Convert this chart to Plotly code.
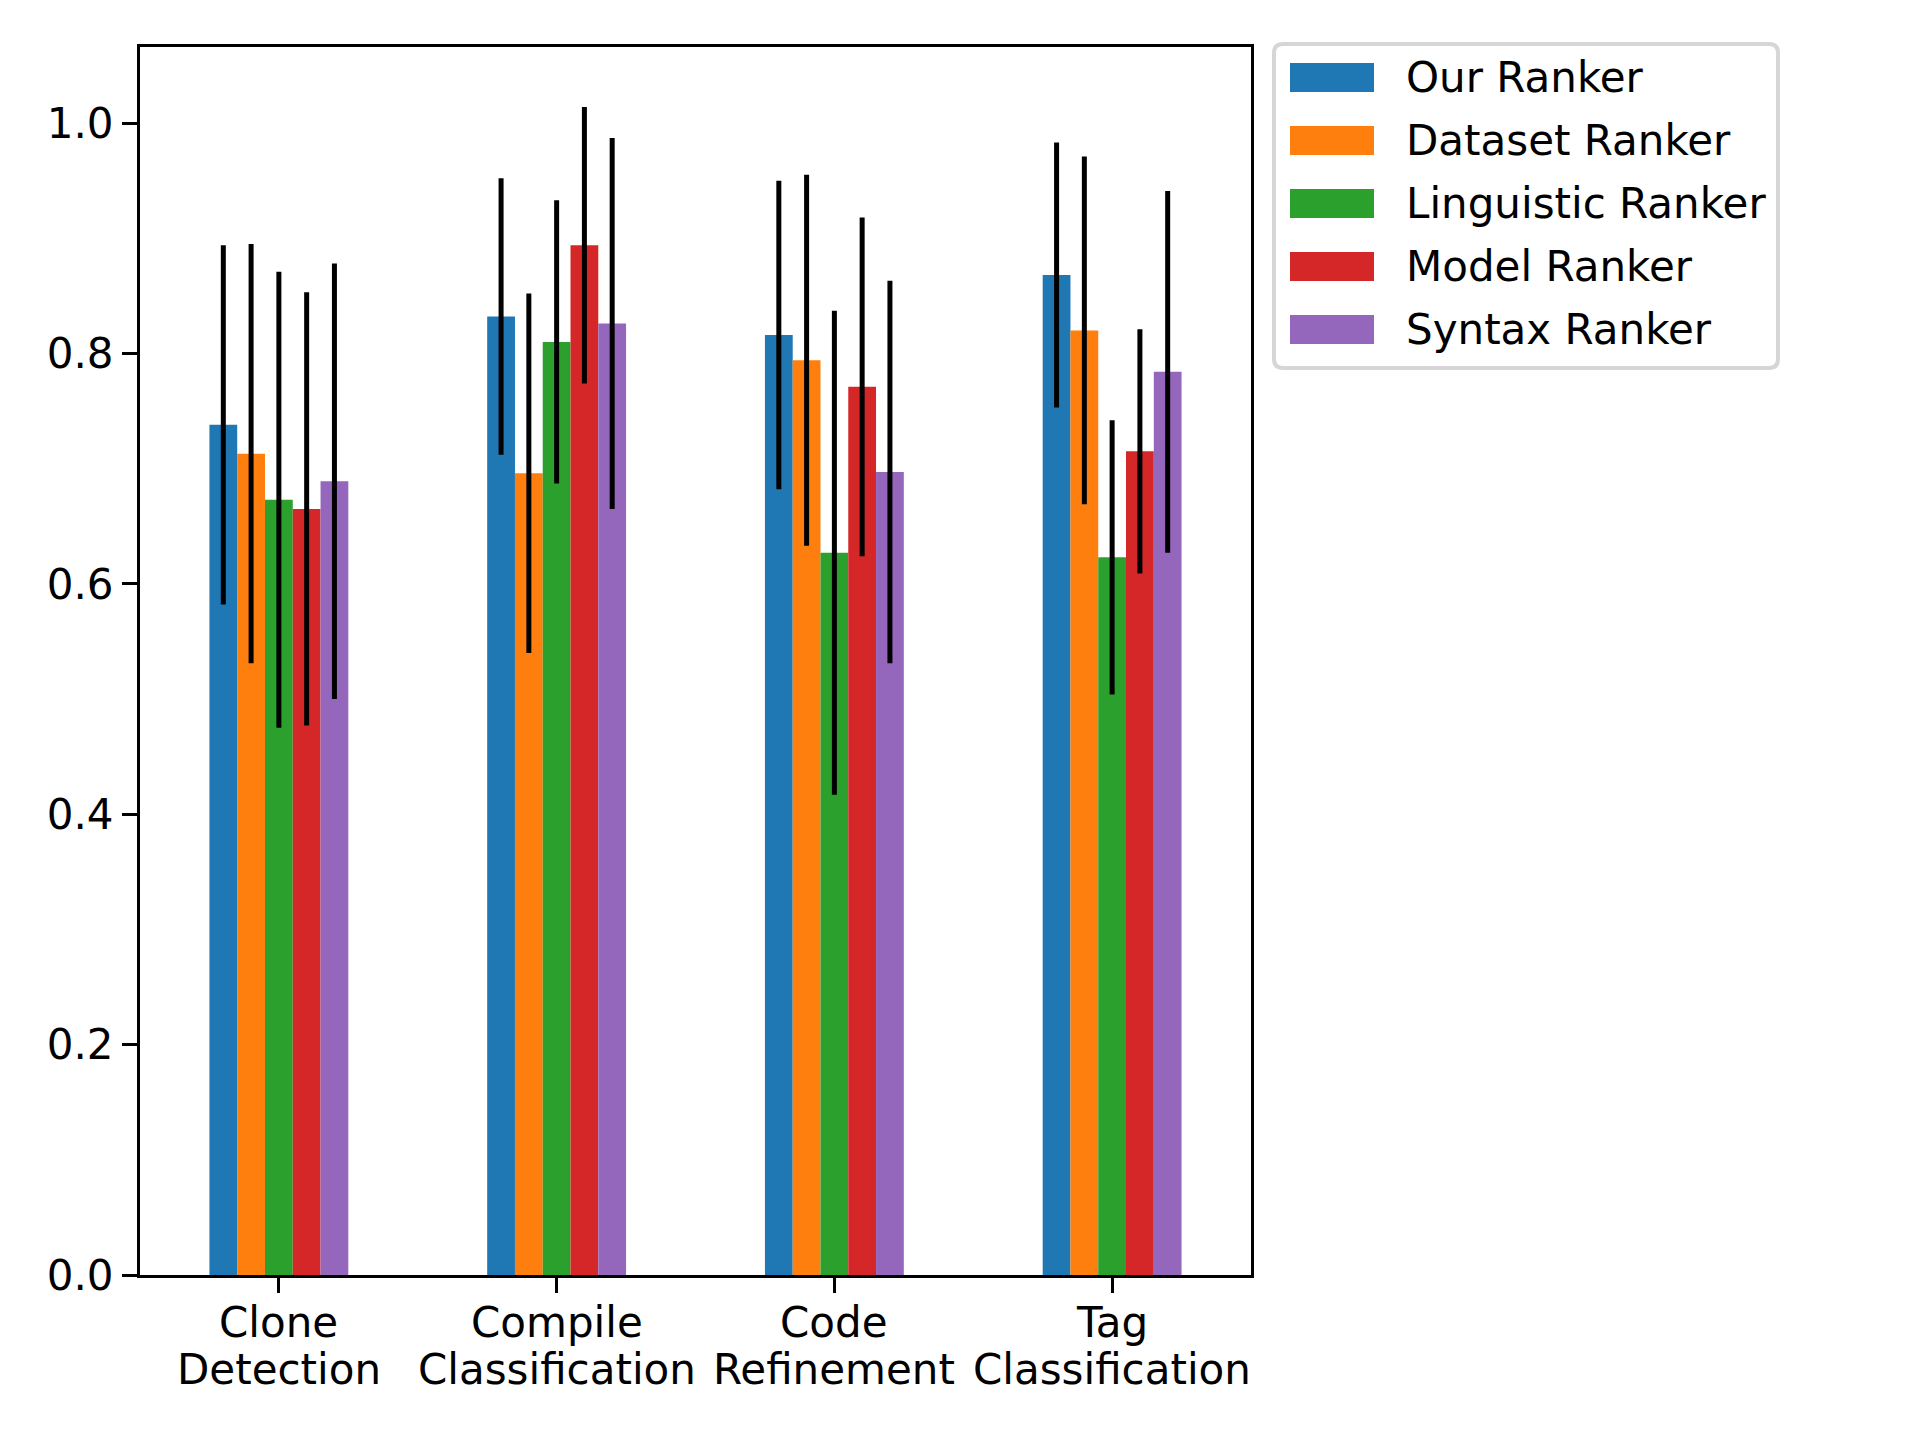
import plotly.graph_objects as go

categories = ["Clone<br>Detection", "Compile<br>Classification", "Code<br>Refinement", "Tag<br>Classification"]
rankers = ["Our Ranker", "Dataset Ranker", "Linguistic Ranker", "Model Ranker", "Syntax Ranker"]
colors = ["#1f77b4", "#ff7f0e", "#2ca02c", "#d62728", "#9467bd"]

our_ranker = [0.738, 0.832, 0.816, 0.868]
dataset_ranker = [0.713, 0.696, 0.794, 0.820]
linguistic_ranker = [0.673, 0.810, 0.627, 0.623]
model_ranker = [0.665, 0.894, 0.771, 0.715]
syntax_ranker = [0.689, 0.826, 0.697, 0.784]

our_err = [0.156, 0.120, 0.134, 0.115]
dataset_err = [0.182, 0.156, 0.161, 0.151]
linguistic_err = [0.198, 0.123, 0.210, 0.119]
model_err = [0.188, 0.120, 0.147, 0.106]
syntax_err = [0.189, 0.161, 0.166, 0.157]

values = [our_ranker, dataset_ranker, linguistic_ranker, model_ranker, syntax_ranker]
errors = [our_err, dataset_err, linguistic_err, model_err, syntax_err]

# the page body has an 8px margin, so everything is placed 8px up/left
OFF = 8
W, H = 1920 - 2 * OFF, 1440 - 2 * OFF
L, R, T, B = 140 - OFF, 1251 - OFF, 47 - OFF, 1275 - OFF   # axes box in pixels
font = "DejaVu Sans"

fig = go.Figure()

for name, col, vals, errs in zip(rankers, colors, values, errors):
    fig.add_trace(go.Bar(
        x=categories, y=vals, name=name,
        marker=dict(color=col, line=dict(width=0)),
        error_y=dict(type="data", array=errs, color="black", thickness=5, width=0),
        showlegend=False,
    ))


# legend drawn by hand so the patches match the reference size
def px_x(p):
    return (p - OFF - L) / (R - L)


def px_y(p):
    return (B - (p - OFF)) / (B - T)


def rounded_box(x0, y0, x1, y1, r):
    # rounded rectangle path in paper coords, pixel inputs
    pts = [
        f"M{px_x(x0 + r)},{px_y(y0)}", f"L{px_x(x1 - r)},{px_y(y0)}",
        f"Q{px_x(x1)},{px_y(y0)} {px_x(x1)},{px_y(y0 + r)}", f"L{px_x(x1)},{px_y(y1 - r)}",
        f"Q{px_x(x1)},{px_y(y1)} {px_x(x1 - r)},{px_y(y1)}", f"L{px_x(x0 + r)},{px_y(y1)}",
        f"Q{px_x(x0)},{px_y(y1)} {px_x(x0)},{px_y(y1 - r)}", f"L{px_x(x0)},{px_y(y0 + r)}",
        f"Q{px_x(x0)},{px_y(y0)} {px_x(x0 + r)},{px_y(y0)}", "Z",
    ]
    return " ".join(pts)


shapes = [dict(type="path", xref="paper", yref="paper",
               path=rounded_box(1274, 44, 1778, 368, 9),
               line=dict(color="#d6d6d6", width=4), fillcolor="white", layer="above")]
annotations = []
for i, (name, col) in enumerate(zip(rankers, colors)):
    cy = 77.5 + i * 63
    shapes.append(dict(type="rect", xref="paper", yref="paper",
                       x0=px_x(1290), x1=px_x(1374), y0=px_y(cy + 14.5), y1=px_y(cy - 14.5),
                       line=dict(width=0), fillcolor=col, layer="above"))
    annotations.append(dict(xref="paper", yref="paper", x=px_x(1404), y=px_y(cy),
                            xanchor="left", yanchor="middle", text=name, showarrow=False,
                            font=dict(family=font, size=42, color="black")))

# two-line category labels, one annotation per line for tighter line spacing
for cat in categories:
    for j, line in enumerate(cat.split("<br>")):
        annotations.append(dict(xref="x", yref="paper", x=cat, y=0, yshift=-(47 + 47 * j),
                                xanchor="center", yanchor="middle", text=line, showarrow=False,
                                font=dict(family=font, size=42, color="black")))

fig.update_layout(
    width=W, height=H,
    margin=dict(l=L, r=W - R, t=T, b=H - B),
    plot_bgcolor="white", paper_bgcolor="white",
    barmode="group", bargap=0.5, bargroupgap=0,
    font=dict(family=font, size=42, color="black"),
    shapes=shapes, annotations=annotations,
    showlegend=False,
)

fig.update_xaxes(
    range=[-0.5, 3.5], showline=True, mirror=True, linecolor="black", linewidth=3,
    ticks="outside", ticklen=15, tickwidth=3, tickcolor="black", showgrid=False,
    showticklabels=False,
)
fig.update_yaxes(
    range=[0, 1.066], tickvals=[0, 0.2, 0.4, 0.6, 0.8, 1.0], tickformat=".1f",
    showline=True, mirror=True, linecolor="black", linewidth=3,
    ticks="outside", ticklen=15, tickwidth=3, tickcolor="black",
    showgrid=False, zeroline=False,
)

fig.write_html("out.html")
